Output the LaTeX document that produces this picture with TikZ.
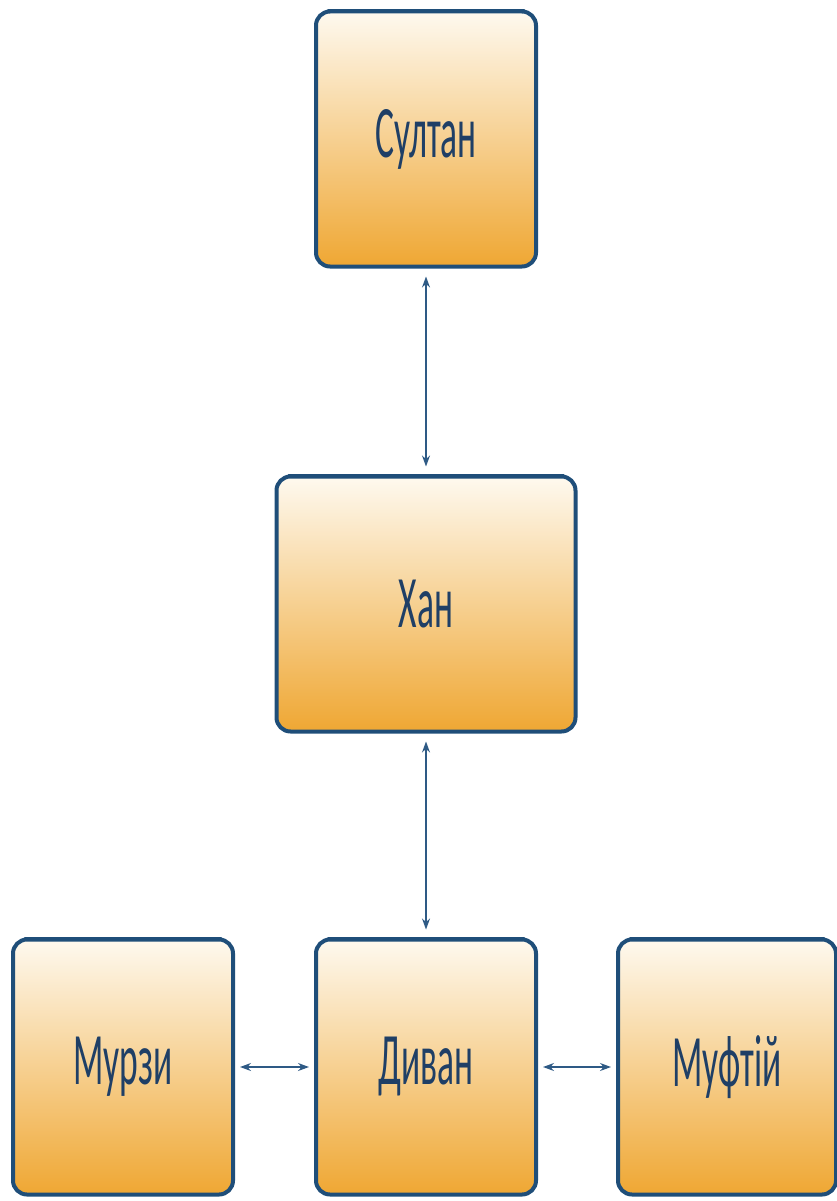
\documentclass[tikz,border=0pt]{standalone}
\usepackage{fontspec}
\setmainfont{Carlito}
\usetikzlibrary{arrows.meta}
\definecolor{bordc}{HTML}{1F4E79}
\definecolor{txtc}{HTML}{1F3F66}
\definecolor{topc}{HTML}{FEF9EF}
\definecolor{botc}{HTML}{EFA733}
\definecolor{arrc}{HTML}{2E5A85}
\tikzset{
  box/.style={draw=bordc, line width=4pt, rounded corners=14pt, top color=topc, bottom color=botc,
    minimum width=#1, minimum height=255pt, inner sep=0pt, text=txtc,
    font=\fontsize{74}{74}\selectfont},
  link/.style={draw=arrc, line width=1.2pt, {Stealth[length=11pt,width=8pt]}-{Stealth[length=11pt,width=8pt]}}
}
\newcommand{\nar}[1]{\scalebox{0.48}[1]{#1}}
\begin{document}
\begin{tikzpicture}[x=1pt,y=1pt]
\useasboundingbox (0,0) rectangle (837,-1201);
\node[box=220pt] (sultan) at (426,-139) {\nar{Султан}};
\node[box=299pt] (khan) at (426,-604) {\nar{Хан}};
\node[box=220pt] (murzy) at (123,-1067) {\nar{Мурзи}};
\node[box=220pt] (dyvan) at (426,-1067) {\nar{Диван}};
\node[box=218pt] (mufti) at (727,-1067) {\nar{Муфтій}};
\foreach \n in {sultan,khan,murzy,dyvan,mufti}
  \draw[bordc, line width=3pt, line cap=round] ([xshift=14pt,yshift=-1pt]\n.north west) -- ([xshift=-14pt,yshift=-1pt]\n.north east);
\draw[link] ([yshift=-8pt]sultan.south) -- ([yshift=8pt]khan.north);
\draw[link] ([yshift=-8pt]khan.south) -- ([yshift=8pt]dyvan.north);
\draw[link] ([xshift=5pt]murzy.east) -- ([xshift=-5pt]dyvan.west);
\draw[link] ([xshift=5pt]dyvan.east) -- ([xshift=-5pt]mufti.west);
\end{tikzpicture}
\end{document}
